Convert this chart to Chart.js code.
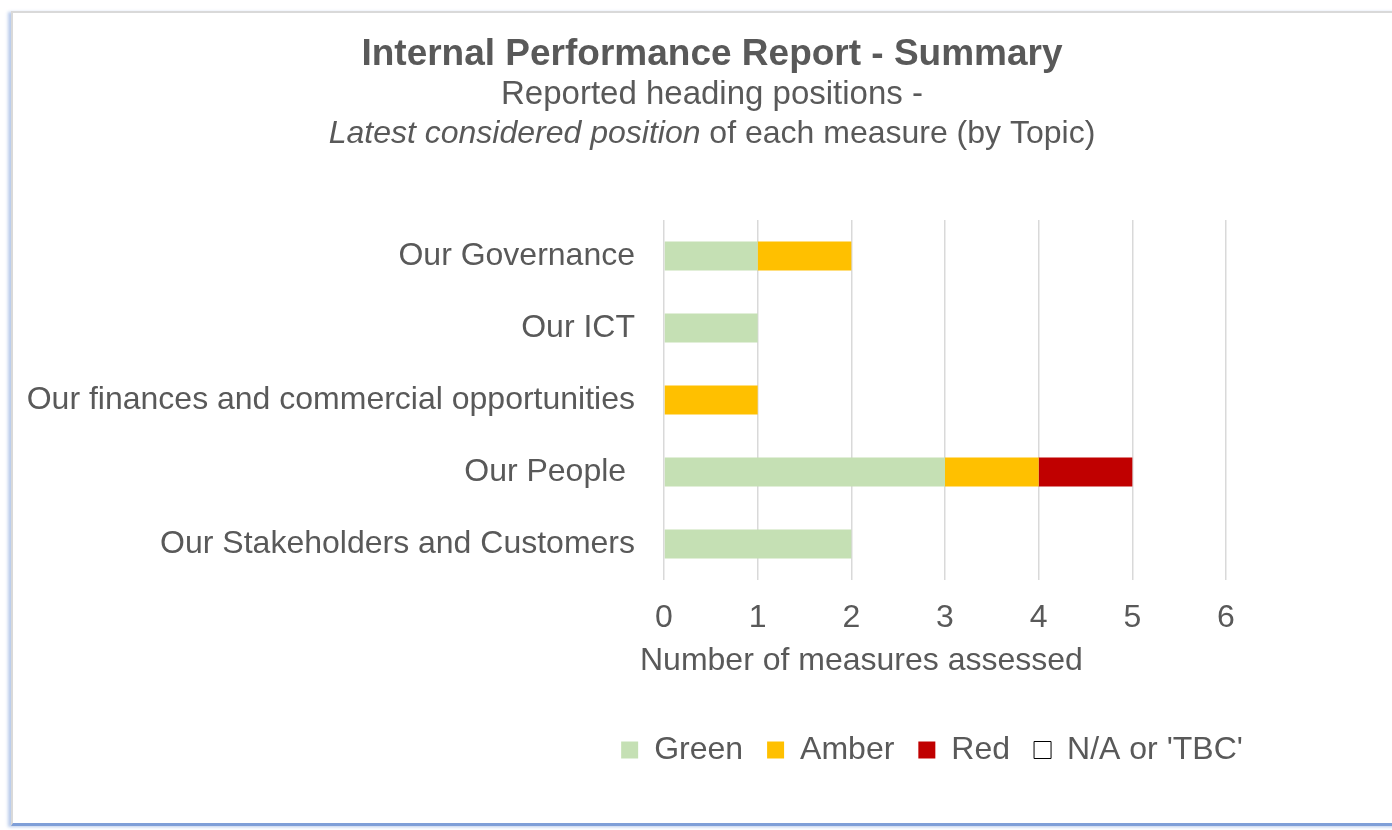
<!DOCTYPE html>
<html>
<head>
<meta charset="utf-8">
<script src="https://cdn.jsdelivr.net/npm/chart.js@4.4.0/dist/chart.umd.min.js"></script>
<style>
  html, body { margin: 0; padding: 0; background: #fff; overflow: hidden; }
  #wrap { position: relative; width: 1392px; height: 830px; }
  #frame {
    position: absolute; left: 11px; top: 11px; width: 1400px; height: 810px;
    border: 2px solid #d9d9d9; border-bottom: 3px solid #7f9fd8;
    box-shadow: -3px 1px 3px rgba(100, 140, 210, 0.45);
    pointer-events: none;
  }
  canvas { position: absolute; left: 0; top: 0; }
</style>
</head>
<body>
<div id="wrap">
  <canvas id="myChart" width="1392" height="830"></canvas>
  <div id="frame"></div>
</div>
<script>
// chart data
const topics = ['Our Governance', 'Our ICT', 'Our finances and commercial opportunities', 'Our People ', 'Our Stakeholders and Customers'];
const green = [1, 1, 0, 3, 2];
const amber = [1, 0, 1, 1, 0];
const red = [0, 0, 0, 1, 0];
const notKnown = [0, 0, 0, 0, 0];
const xTicks = [0, 1, 2, 3, 4, 5, 6];

const chartTitle = 'Internal Performance Report - Summary';
const subLine1 = 'Reported heading positions -';
const subItalic = 'Latest considered position';
const subRest = ' of each measure (by Topic)';
const xTitle = 'Number of measures assessed';

const grey = '#595959';
const fontFam = '"Liberation Sans", Arial, sans-serif';
Chart.defaults.font.family = fontFam;

// moves title / legend to where Excel had them, draws subtitle lines and the x axis title
const geserPlugin = {
  id: 'geser',
  afterLayout(chart) {
    chart.titleBlock.left += 99;
    chart.titleBlock.right += 99;
    chart.legend.left += 319;
    chart.legend.right += 319;
  },
  afterDraw(chart) {
    const ctx = chart.ctx;
    ctx.save();
    ctx.fillStyle = grey;
    ctx.textBaseline = 'middle';
    ctx.textAlign = 'center';
    ctx.font = '33px ' + fontFam;
    ctx.fillText(subLine1, 712, 95);
    const fItalic = 'italic 32px ' + fontFam;
    const fNormal = '32px ' + fontFam;
    ctx.font = fItalic;
    const w1 = ctx.measureText(subItalic).width;
    ctx.font = fNormal;
    const w2 = ctx.measureText(subRest).width;
    let x = 712 - (w1 + w2) / 2;
    ctx.textAlign = 'left';
    ctx.font = fItalic;
    ctx.fillText(subItalic, x, 134);
    ctx.font = fNormal;
    ctx.fillText(subRest, x + w1, 134);
    // x axis title sits a bit left of the plot centre, like in Excel
    const xs = chart.scales.x;
    ctx.fillText(xTitle, xs.left - 24, xs.top + 81);
    ctx.restore();
  }
};

let canvasChart = document.getElementById('myChart');
new Chart(canvasChart, {
  type: 'bar',
  data: {
    labels: topics,
    datasets: [
      { label: 'Green', data: green, backgroundColor: '#c5e0b4', borderWidth: 0 },
      { label: 'Amber', data: amber, backgroundColor: '#ffc000', borderWidth: 0 },
      { label: 'Red', data: red, backgroundColor: '#c00000', borderWidth: 0 },
      { label: "N/A or 'TBC'", data: notKnown, backgroundColor: '#ffffff', borderColor: '#000000', borderWidth: 1 }
    ]
  },
  options: {
    indexAxis: 'y',
    responsive: false,
    animation: false,
    barPercentage: 0.4,
    categoryPercentage: 1,
    layout: { padding: { left: 0, right: 166, top: 0, bottom: 54 } },
    scales: {
      x: {
        stacked: true,
        min: xTicks[0],
        max: xTicks[xTicks.length - 1],
        ticks: { stepSize: 1, color: grey, font: { size: 32 }, padding: 19 },
        grid: { color: '#d9d9d9', lineWidth: 1.5, drawTicks: false },
        border: { display: false },
        title: { display: false },
        afterFit(scale) {
          scale.height = 130;
        }
      },
      y: {
        stacked: true,
        ticks: { color: grey, font: { size: 32 }, padding: 21 },
        grid: { display: false },
        border: { display: false },
        afterFit(scale) {
          scale.width = 664;
        }
      }
    },
    plugins: {
      title: {
        display: true,
        text: chartTitle,
        color: grey,
        font: { size: 37, weight: 'bold' },
        padding: { top: 33, bottom: 142.6 }
      },
      legend: {
        position: 'bottom',
        labels: {
          color: grey,
          font: { size: 32 },
          boxWidth: 17,
          boxHeight: 17,
          padding: 24
        }
      },
      tooltip: { enabled: false }
    }
  },
  plugins: [geserPlugin]
});
</script>
</body>
</html>
